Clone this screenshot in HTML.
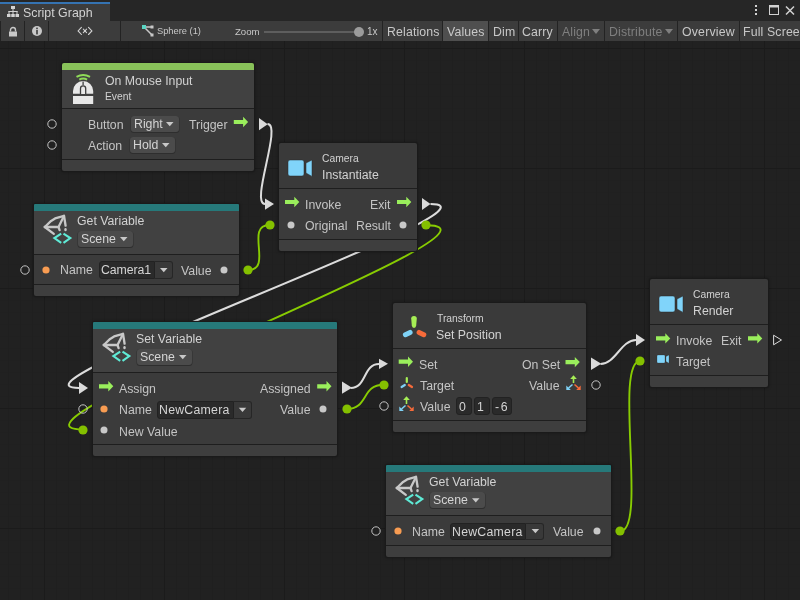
<!DOCTYPE html>
<html><head><meta charset="utf-8">
<style>
*{margin:0;padding:0;box-sizing:border-box}
html,body{width:800px;height:600px;overflow:hidden;background:#212121;font-family:"Liberation Sans",sans-serif;color:#c8c8c8}
.t{position:absolute;line-height:1;white-space:nowrap;will-change:transform}
.r{position:absolute}
.s{position:absolute;overflow:visible}
.node{position:absolute;background:#1a1a1a;border-radius:3px;box-shadow:0 0 3px rgba(0,0,0,0.35)}
.dd{position:absolute;background:#4b4b4b;border-radius:3px;box-shadow:0 0.5px 0 0.5px #2e2e2e}
.fld{position:absolute;background:#2a2a2a;border-radius:3px 0 0 3px;border:1px solid #222}
.fdd{position:absolute;background:#393939;border-radius:0 3px 3px 0;border:1px solid #262626;border-left:none}
#grid{position:absolute;left:0;top:0;width:800px;height:600px;
background-color:#212121;
background-image:
linear-gradient(to right,#1b1b1b 1px,transparent 1px),
linear-gradient(to bottom,#1b1b1b 1px,transparent 1px),
linear-gradient(to right,#1f1f1f 1px,transparent 1px),
linear-gradient(to bottom,#202020 1px,transparent 1px);
background-size:120px 600px,800px 120px,12px 600px,800px 12px;
background-position:44px 0,0 48px,8px 0,0 0;
}
#tabbar{position:absolute;left:0;top:0;width:800px;height:21px;background:#262626}
#tab{position:absolute;left:0;top:2px;width:110px;height:19px;background:#3c3c3c;border-top:2px solid #3573b2}
#toolbar{position:absolute;left:0;top:21px;width:800px;height:20px;background:#3c3c3c}
.tsep{position:absolute;top:21px;width:1px;height:20px;background:#232323}
.tbtn{position:absolute;top:22px;height:20px;font-size:12.3px;line-height:20px;color:#c8c8c8;white-space:nowrap;will-change:transform}
</style></head><body>
<div id="grid"></div>

<svg class="s" style="left:0;top:0" width="800" height="600"><path d="M267.5 124 C282.5 124 250 204 265 204" fill="none" stroke="#dcdcdc" stroke-width="2"/><path d="M248.3 270 C273.3 270 244.39999999999998 225 269.4 225" fill="none" stroke="#88cc02" stroke-width="1.9"/><path d="M430.5 204 C520.5 204 -11 388 79 388" fill="none" stroke="#dcdcdc" stroke-width="2"/><path d="M426.3 225.2 C536.3 225.2 -26.599999999999994 429.6 83.4 429.6" fill="none" stroke="#88cc02" stroke-width="1.9"/><path d="M350.7 388 C366.7 388 363 364 379 364" fill="none" stroke="#dcdcdc" stroke-width="2"/><path d="M346.6 409 C368.6 409 361.4 384.8 383.4 384.8" fill="none" stroke="#88cc02" stroke-width="1.9"/><path d="M600.5 364 C615.5 364 621 340 636 340" fill="none" stroke="#dcdcdc" stroke-width="2"/><path d="M620.4 531 C647.4 531 613.4 361 640.4 361" fill="none" stroke="#88cc02" stroke-width="1.9"/></svg>
<div class="node" style="left:61px;top:62px;width:194px;height:110px"></div>
<div class="r" style="left:62px;top:63px;width:192px;height:7px;background:#88c159;border-radius:2px 2px 0 0"></div>
<div class="r" style="left:62px;top:70px;width:192px;height:38px;background:#414141;"></div>
<div class="r" style="left:62px;top:108px;width:192px;height:1px;background:#1e1e1e;"></div>
<div class="r" style="left:62px;top:109px;width:192px;height:50px;background:#3b3b3b;"></div>
<div class="r" style="left:62px;top:159px;width:192px;height:1px;background:#1e1e1e;"></div>
<div class="r" style="left:62px;top:160px;width:192px;height:11px;background:#3e3e3e;border-radius:0 0 2px 2px"></div>
<svg class="s" style="left:72.9px;top:74px;overflow:visible" width="21" height="31"><path d="M3.5 2.9 Q10.2 -0.8 17 2.9" fill="none" stroke="#8fdc58" stroke-width="2"/><path d="M6.3 5.6 Q10.2 3.4 14.1 5.6" fill="none" stroke="#8fdc58" stroke-width="2"/><path d="M0 19.8 V17 A10.1 10 0 0 1 20.2 17 V19.8 Z" fill="#e8e8e8"/><rect x="0" y="22" width="20.2" height="8" fill="#e8e8e8"/><path d="M10.1 7.5 V11.3" stroke="#3f3f3f" stroke-width="1.3"/><path d="M7.5 20 V14.5 A2.6 2.6 0 0 1 12.7 14.5 V20" fill="#e8e8e8" stroke="#3f3f3f" stroke-width="1.3"/></svg>
<div class="t" style="left:104.7px;top:75.00px;font-size:12.3px;color:#d2d2d2;">On Mouse Input</div>
<div class="t" style="left:104.7px;top:92.00px;font-size:10.3px;color:#d2d2d2;">Event</div>
<svg class="s" style="left:46.3px;top:118px" width="12" height="12"><circle cx="6" cy="6" r="4.2" fill="none" stroke="#c4c4c4" stroke-width="1.0"/></svg>
<svg class="s" style="left:46.3px;top:139px" width="12" height="12"><circle cx="6" cy="6" r="4.2" fill="none" stroke="#c4c4c4" stroke-width="1.0"/></svg>
<div class="t" style="left:87.8px;top:119.00px;font-size:12.3px;color:#c4c4c4;">Button</div>
<div class="t" style="left:88.1px;top:140.00px;font-size:12.3px;color:#c4c4c4;">Action</div>
<div class="dd" style="left:131px;top:116px;width:48px;height:16px"></div>
<div class="t" style="left:133.9px;top:118.00px;font-size:12.3px;color:#d4d4d4;">Right</div>
<svg class="s" style="left:0;top:0" width="800" height="600"><path d="M166 122.0 L173.5 122.0 L169.75 126.3 Z" fill="#c8c8c8"/></svg>
<div class="dd" style="left:130px;top:137px;width:45px;height:16px"></div>
<div class="t" style="left:132.9px;top:139.00px;font-size:12.3px;color:#d4d4d4;">Hold</div>
<svg class="s" style="left:0;top:0" width="800" height="600"><path d="M162 143.0 L169.5 143.0 L165.75 147.3 Z" fill="#c8c8c8"/></svg>
<div class="t" style="left:189.0px;top:119.00px;font-size:12.3px;color:#c4c4c4;">Trigger</div>
<svg class="s" style="left:0;top:0" width="800" height="600"><path d="M233.8 119.9 H243.10000000000002 V116.8 L248.10000000000002 122 L243.10000000000002 127.2 V124.1 H233.8 Z" fill="#9aee5c"/></svg>
<svg class="s" style="left:0;top:0" width="800" height="600"><path d="M259 118 L267.7 124.15 L259 130.3 Z" fill="#dadada"/></svg>
<div class="node" style="left:278px;top:142px;width:140px;height:110px"></div>
<div class="r" style="left:279px;top:143px;width:138px;height:45px;background:#3a3a3a;border-radius:2px 2px 0 0"></div>
<div class="r" style="left:279px;top:188px;width:138px;height:1px;background:#1e1e1e;"></div>
<div class="r" style="left:279px;top:189px;width:138px;height:50px;background:#3b3b3b;"></div>
<div class="r" style="left:279px;top:239px;width:138px;height:1px;background:#1e1e1e;"></div>
<div class="r" style="left:279px;top:240px;width:138px;height:11px;background:#3e3e3e;border-radius:0 0 2px 2px"></div>
<svg class="s" style="left:288px;top:160px;overflow:visible" width="25.0" height="17.0"><g transform="scale(1.0)"><rect x="0" y="0" width="16" height="16" rx="2" fill="#80d4fa" stroke="#2a2a2a" stroke-width="0.5"/><path d="M18 3 L24 0 V16.4 L18 13 Z" fill="#80d4fa" stroke="#2a2a2a" stroke-width="0.5"/></g></svg>
<div class="t" style="left:321.6px;top:154.00px;font-size:10.3px;color:#d2d2d2;">Camera</div>
<div class="t" style="left:321.6px;top:169.00px;font-size:12.3px;color:#d2d2d2;">Instantiate</div>
<svg class="s" style="left:0;top:0" width="800" height="600"><path d="M265 198.4 L274 204.05 L265 209.7 Z" fill="#dadada"/></svg>
<svg class="s" style="left:0;top:0" width="800" height="600"><path d="M285 199.9 H294.3 V196.8 L299.3 202 L294.3 207.2 V204.1 H285 Z" fill="#9aee5c"/></svg>
<div class="t" style="left:304.7px;top:199.00px;font-size:12.3px;color:#c4c4c4;">Invoke</div>
<svg class="s" style="left:284.6px;top:218.8px" width="12" height="12"><circle cx="6" cy="6" r="3.5" fill="#c8c8c8"/></svg>
<div class="t" style="left:304.7px;top:220.00px;font-size:12.3px;color:#c4c4c4;">Original</div>
<div class="t" style="right:409.2px;top:199.00px;font-size:12.3px;color:#c4c4c4">Exit</div>
<svg class="s" style="left:0;top:0" width="800" height="600"><path d="M397 199.9 H406.3 V196.8 L411.3 202 L406.3 207.2 V204.1 H397 Z" fill="#9aee5c"/></svg>
<div class="t" style="right:409.2px;top:220.00px;font-size:12.3px;color:#c4c4c4">Result</div>
<svg class="s" style="left:396.5px;top:218.8px" width="12" height="12"><circle cx="6" cy="6" r="3.5" fill="#c8c8c8"/></svg>
<svg class="s" style="left:0;top:0" width="800" height="600"><path d="M422 198 L430.5 204.0 L422 210 Z" fill="#dadada"/></svg>
<svg class="s" style="left:420.3px;top:219.2px" width="12" height="12"><circle cx="6" cy="6" r="4.6" fill="#84c000"/></svg>
<svg class="s" style="left:263.6px;top:218.9px" width="12" height="12"><circle cx="6" cy="6" r="4.6" fill="#84c000"/></svg>
<div class="node" style="left:33px;top:203px;width:207px;height:94px"></div>
<div class="r" style="left:34px;top:204px;width:205px;height:7px;background:#26797a;border-radius:1px 1px 0 0"></div>
<div class="r" style="left:34px;top:211px;width:205px;height:43px;background:#414141;"></div>
<div class="r" style="left:34px;top:254px;width:205px;height:1px;background:#1e1e1e;"></div>
<div class="r" style="left:34px;top:255px;width:205px;height:29px;background:#3b3b3b;"></div>
<div class="r" style="left:34px;top:284px;width:205px;height:1px;background:#1e1e1e;"></div>
<div class="r" style="left:34px;top:285px;width:205px;height:11px;background:#3e3e3e;border-radius:0 0 2px 2px"></div>
<svg class="s" style="left:40.1px;top:212.7px;overflow:visible" width="34" height="34"><g transform="translate(4 14)"><g fill="none" stroke="#c8c8c8" stroke-width="2.3" stroke-linejoin="round" stroke-linecap="round"><path d="M0.8 0 L7.1 -6.1 L11.1 -8.6 L20 -11.2 L21.6 -1.3"/><path d="M0.8 0 L9.8 6.8"/><path d="M0.8 0 L14.5 0 L20 -11"/><path d="M14.5 0 L15.6 3.1"/><path d="M21.5 2.2 L21.5 3.2"/></g><g fill="none" stroke="#5fead6" stroke-width="2.1"><path d="M17.2 6.6 L10.4 11.1 L17.2 15.8"/><path d="M19.5 6.6 L26.3 11.1 L19.5 15.8"/></g></g></svg>
<div class="t" style="left:76.9px;top:215.00px;font-size:12.3px;color:#d2d2d2;">Get Variable</div>
<div class="dd" style="left:78px;top:231px;width:55px;height:16px"></div>
<div class="t" style="left:80.9px;top:233.00px;font-size:12.3px;color:#d4d4d4;">Scene</div>
<svg class="s" style="left:0;top:0" width="800" height="600"><path d="M120 237.0 L127.5 237.0 L123.75 241.3 Z" fill="#c8c8c8"/></svg>
<svg class="s" style="left:18.7px;top:264px" width="12" height="12"><circle cx="6" cy="6" r="4.2" fill="none" stroke="#c4c4c4" stroke-width="1.0"/></svg>
<svg class="s" style="left:39.5px;top:264px" width="12" height="12"><circle cx="6" cy="6" r="3.6" fill="#f89c52"/></svg>
<div class="t" style="left:59.6px;top:264.00px;font-size:12.3px;color:#c4c4c4;">Name</div>
<div class="fld" style="left:98.5px;top:261px;width:56.5px;height:18px"></div>
<div class="fdd" style="left:155px;top:261px;width:17.5px;height:18px"></div>
<div class="t" style="left:100.6px;top:264.00px;font-size:12.3px;color:#d4d4d4;letter-spacing:-0.1px">Camera1</div>
<svg class="s" style="left:0;top:0" width="800" height="600"><path d="M160.0 268.0 L167.5 268.0 L163.75 272.3 Z" fill="#c8c8c8"/></svg>
<div class="t" style="left:180.8px;top:265.00px;font-size:12.3px;color:#c4c4c4;">Value</div>
<svg class="s" style="left:218.4px;top:264px" width="12" height="12"><circle cx="6" cy="6" r="3.5" fill="#c8c8c8"/></svg>
<svg class="s" style="left:241.5px;top:264px" width="12" height="12"><circle cx="6" cy="6" r="4.6" fill="#84c000"/></svg>
<div class="node" style="left:92px;top:321px;width:246px;height:136px"></div>
<div class="r" style="left:93px;top:322px;width:244px;height:7px;background:#26797a;border-radius:1px 1px 0 0"></div>
<div class="r" style="left:93px;top:329px;width:244px;height:43px;background:#414141;"></div>
<div class="r" style="left:93px;top:372px;width:244px;height:1px;background:#1e1e1e;"></div>
<div class="r" style="left:93px;top:373px;width:244px;height:71px;background:#3b3b3b;"></div>
<div class="r" style="left:93px;top:444px;width:244px;height:1px;background:#1e1e1e;"></div>
<div class="r" style="left:93px;top:445px;width:244px;height:11px;background:#3e3e3e;border-radius:0 0 2px 2px"></div>
<svg class="s" style="left:99.2px;top:330.8px;overflow:visible" width="34" height="34"><g transform="translate(4 14)"><g fill="none" stroke="#c8c8c8" stroke-width="2.3" stroke-linejoin="round" stroke-linecap="round"><path d="M0.8 0 L7.1 -6.1 L11.1 -8.6 L20 -11.2 L21.6 -1.3"/><path d="M0.8 0 L9.8 6.8"/><path d="M0.8 0 L14.5 0 L20 -11"/><path d="M14.5 0 L15.6 3.1"/><path d="M21.5 2.2 L21.5 3.2"/></g><g fill="none" stroke="#5fead6" stroke-width="2.1"><path d="M17.2 6.6 L10.4 11.1 L17.2 15.8"/><path d="M19.5 6.6 L26.3 11.1 L19.5 15.8"/></g></g></svg>
<div class="t" style="left:135.8px;top:333.00px;font-size:12.3px;color:#d2d2d2;">Set Variable</div>
<div class="dd" style="left:137px;top:349px;width:55px;height:16px"></div>
<div class="t" style="left:139.9px;top:351.00px;font-size:12.3px;color:#d4d4d4;">Scene</div>
<svg class="s" style="left:0;top:0" width="800" height="600"><path d="M179 355.0 L186.5 355.0 L182.75 359.3 Z" fill="#c8c8c8"/></svg>
<svg class="s" style="left:0;top:0" width="800" height="600"><path d="M79 382 L88 388.0 L79 394 Z" fill="#dadada"/></svg>
<svg class="s" style="left:0;top:0" width="800" height="600"><path d="M99 384.2 H108.3 V381.1 L113.3 386.3 L108.3 391.5 V388.40000000000003 H99 Z" fill="#9aee5c"/></svg>
<div class="t" style="left:119.3px;top:383.00px;font-size:12.3px;color:#c4c4c4;">Assign</div>
<svg class="s" style="left:77.4px;top:402.7px" width="12" height="12"><circle cx="6" cy="6" r="4.2" fill="none" stroke="#c4c4c4" stroke-width="1.0"/></svg>
<svg class="s" style="left:98px;top:403px" width="12" height="12"><circle cx="6" cy="6" r="3.6" fill="#f89c52"/></svg>
<div class="t" style="left:118.6px;top:404.00px;font-size:12.3px;color:#c4c4c4;">Name</div>
<div class="fld" style="left:157px;top:401px;width:76.5px;height:17.5px"></div>
<div class="fdd" style="left:233.5px;top:401px;width:18.0px;height:17.5px"></div>
<div class="t" style="left:159.1px;top:404.00px;font-size:12.3px;color:#d4d4d4;letter-spacing:0.25px">NewCamera</div>
<svg class="s" style="left:0;top:0" width="800" height="600"><path d="M238.75 407.75 L246.25 407.75 L242.5 412.05 Z" fill="#c8c8c8"/></svg>
<div class="t" style="right:489.0px;top:383.00px;font-size:12.3px;color:#c4c4c4">Assigned</div>
<svg class="s" style="left:0;top:0" width="800" height="600"><path d="M317.2 384.2 H326.5 V381.1 L331.5 386.3 L326.5 391.5 V388.40000000000003 H317.2 Z" fill="#9aee5c"/></svg>
<svg class="s" style="left:0;top:0" width="800" height="600"><path d="M342 381.6 L352 387.70000000000005 L342 393.8 Z" fill="#dadada"/></svg>
<div class="t" style="right:489.4px;top:404.00px;font-size:12.3px;color:#c4c4c4">Value</div>
<svg class="s" style="left:316.6px;top:402.8px" width="12" height="12"><circle cx="6" cy="6" r="3.5" fill="#c8c8c8"/></svg>
<svg class="s" style="left:340.6px;top:402.8px" width="12" height="12"><circle cx="6" cy="6" r="4.6" fill="#84c000"/></svg>
<svg class="s" style="left:98px;top:424px" width="12" height="12"><circle cx="6" cy="6" r="3.5" fill="#c8c8c8"/></svg>
<div class="t" style="left:118.6px;top:426.00px;font-size:12.3px;color:#c4c4c4;">New Value</div>
<svg class="s" style="left:77.4px;top:423.6px" width="12" height="12"><circle cx="6" cy="6" r="4.6" fill="#84c000"/></svg>
<div class="node" style="left:392px;top:302px;width:195px;height:131px"></div>
<div class="r" style="left:393px;top:303px;width:193px;height:45px;background:#3a3a3a;border-radius:2px 2px 0 0"></div>
<div class="r" style="left:393px;top:348px;width:193px;height:1px;background:#1e1e1e;"></div>
<div class="r" style="left:393px;top:349px;width:193px;height:71px;background:#3b3b3b;"></div>
<div class="r" style="left:393px;top:420px;width:193px;height:1px;background:#1e1e1e;"></div>
<div class="r" style="left:393px;top:421px;width:193px;height:11px;background:#3e3e3e;border-radius:0 0 2px 2px"></div>
<svg class="s" style="left:398px;top:310px;overflow:visible" width="30" height="30"><path d="M13.2 8.6 Q13.2 5.9 16 5.9 Q18.8 5.9 18.8 8.6 L18.2 15.6 Q18 17.9 16 17.9 Q14 17.9 13.8 15.6 Z" fill="#a6ee55"/><path d="M7.4 24.7 L12.1 22.4" stroke="#7fd2f6" stroke-width="5" stroke-linecap="round"/><path d="M21.1 22.4 L25.8 24.7" stroke="#f76b3a" stroke-width="5" stroke-linecap="round"/></svg>
<div class="t" style="left:436.6px;top:314.00px;font-size:10.3px;color:#d2d2d2;">Transform</div>
<div class="t" style="left:435.9px;top:329.00px;font-size:12.3px;color:#d2d2d2;">Set Position</div>
<svg class="s" style="left:0;top:0" width="800" height="600"><path d="M379 358.7 L388 363.85 L379 369 Z" fill="#dadada"/></svg>
<svg class="s" style="left:0;top:0" width="800" height="600"><path d="M398.7 359.59999999999997 H408.0 V356.5 L413.0 361.7 L408.0 366.9 V363.8 H398.7 Z" fill="#9aee5c"/></svg>
<div class="t" style="left:418.8px;top:359.00px;font-size:12.3px;color:#c4c4c4;">Set</div>
<svg class="s" style="left:377.6px;top:378.75px" width="12" height="12"><circle cx="6" cy="6" r="4.6" fill="#84c000"/></svg>
<svg class="s" style="left:399.5px;top:377px;overflow:visible" width="14" height="12"><path d="M6.8 1 L6.8 5" stroke="#a6ee55" stroke-width="2.2" stroke-linecap="round"/><path d="M1.6 10 L4.8 8" stroke="#7fd2f6" stroke-width="2.2" stroke-linecap="round"/><path d="M8.8 8 L12 10" stroke="#f76b3a" stroke-width="2.2" stroke-linecap="round"/></svg>
<div class="t" style="left:419.5px;top:380.00px;font-size:12.3px;color:#c4c4c4;">Target</div>
<svg class="s" style="left:377.6px;top:400px" width="12" height="12"><circle cx="6" cy="6" r="4.2" fill="none" stroke="#c4c4c4" stroke-width="1.0"/></svg>
<svg class="s" style="left:398.7px;top:396px;overflow:visible" width="15" height="16"><path d="M7.5 8 V3" stroke="#a6ee55" stroke-width="1.6"/><path d="M4.2 4 L7.5 0.3 L10.8 4 Z" fill="#a6ee55"/><path d="M6.5 9.5 L2.5 13" stroke="#7fd2f6" stroke-width="1.6"/><path d="M0.3 10.4 L0.3 15 L4.8 15 Z" fill="#7fd2f6"/><path d="M8.5 9.5 L12.5 13" stroke="#f76b3a" stroke-width="1.6"/><path d="M14.7 10.4 L14.7 15 L10.2 15 Z" fill="#f76b3a"/></svg>
<div class="t" style="left:419.5px;top:401.00px;font-size:12.3px;color:#c4c4c4;">Value</div>
<div class="fld" style="left:456px;top:397px;width:16px;height:18px;border-radius:3px"></div>
<div class="t" style="left:459.1px;top:401.00px;font-size:12.3px;color:#d4d4d4;">0</div>
<div class="fld" style="left:474px;top:397px;width:16px;height:18px;border-radius:3px"></div>
<div class="t" style="left:477.1px;top:401.00px;font-size:12.3px;color:#d4d4d4;">1</div>
<div class="fld" style="left:492px;top:397px;width:20px;height:18px;border-radius:3px"></div>
<div class="t" style="left:495.1px;top:401.00px;font-size:12.3px;color:#d4d4d4;letter-spacing:1.6px">-6</div>
<div class="t" style="right:240.0px;top:359.00px;font-size:12.3px;color:#c4c4c4">On Set</div>
<svg class="s" style="left:0;top:0" width="800" height="600"><path d="M565.5 360.0 H574.8 V356.90000000000003 L579.8 362.1 L574.8 367.3 V364.20000000000005 H565.5 Z" fill="#9aee5c"/></svg>
<svg class="s" style="left:0;top:0" width="800" height="600"><path d="M591 357.6 L601.3 363.8 L591 370 Z" fill="#dadada"/></svg>
<div class="t" style="right:240.0px;top:380.00px;font-size:12.3px;color:#c4c4c4">Value</div>
<svg class="s" style="left:565.5px;top:375px;overflow:visible" width="15" height="16"><path d="M7.5 8 V3" stroke="#a6ee55" stroke-width="1.6"/><path d="M4.2 4 L7.5 0.3 L10.8 4 Z" fill="#a6ee55"/><path d="M6.5 9.5 L2.5 13" stroke="#7fd2f6" stroke-width="1.6"/><path d="M0.3 10.4 L0.3 15 L4.8 15 Z" fill="#7fd2f6"/><path d="M8.5 9.5 L12.5 13" stroke="#f76b3a" stroke-width="1.6"/><path d="M14.7 10.4 L14.7 15 L10.2 15 Z" fill="#f76b3a"/></svg>
<svg class="s" style="left:589.5px;top:379.1px" width="12" height="12"><circle cx="6" cy="6" r="4.2" fill="none" stroke="#c4c4c4" stroke-width="1.0"/></svg>
<div class="node" style="left:649px;top:278px;width:120px;height:110px"></div>
<div class="r" style="left:650px;top:279px;width:118px;height:45px;background:#3a3a3a;border-radius:2px 2px 0 0"></div>
<div class="r" style="left:650px;top:324px;width:118px;height:1px;background:#1e1e1e;"></div>
<div class="r" style="left:650px;top:325px;width:118px;height:50px;background:#3b3b3b;"></div>
<div class="r" style="left:650px;top:375px;width:118px;height:1px;background:#1e1e1e;"></div>
<div class="r" style="left:650px;top:376px;width:118px;height:11px;background:#3e3e3e;border-radius:0 0 2px 2px"></div>
<svg class="s" style="left:659px;top:295.6px;overflow:visible" width="25.0" height="17.0"><g transform="scale(1.0)"><rect x="0" y="0" width="16" height="16" rx="2" fill="#80d4fa" stroke="#2a2a2a" stroke-width="0.5"/><path d="M18 3 L24 0 V16.4 L18 13 Z" fill="#80d4fa" stroke="#2a2a2a" stroke-width="0.5"/></g></svg>
<div class="t" style="left:692.7px;top:290.00px;font-size:10.3px;color:#d2d2d2;">Camera</div>
<div class="t" style="left:692.7px;top:305.00px;font-size:12.3px;color:#d2d2d2;">Render</div>
<svg class="s" style="left:0;top:0" width="800" height="600"><path d="M636 334 L645 340.0 L636 346 Z" fill="#dadada"/></svg>
<svg class="s" style="left:0;top:0" width="800" height="600"><path d="M656 336.29999999999995 H665.3 V333.2 L670.3 338.4 L665.3 343.59999999999997 V340.5 H656 Z" fill="#9aee5c"/></svg>
<div class="t" style="left:675.5px;top:335.00px;font-size:12.3px;color:#c4c4c4;">Invoke</div>
<div class="t" style="right:58.4px;top:335.00px;font-size:12.3px;color:#c4c4c4">Exit</div>
<svg class="s" style="left:0;top:0" width="800" height="600"><path d="M748 336.29999999999995 H757.3 V333.2 L762.3 338.4 L757.3 343.59999999999997 V340.5 H748 Z" fill="#9aee5c"/></svg>
<svg class="s" style="left:0;top:0" width="800" height="600"><path d="M773.6 335.2 L781.5 340.0 L773.6 344.8 Z" fill="none" stroke="#dadada" stroke-width="1.0"/></svg>
<svg class="s" style="left:657px;top:355px;overflow:visible" width="12.5" height="8.5"><g transform="scale(0.5)"><rect x="0" y="0" width="16" height="16" rx="2" fill="#80d4fa" stroke="#2a2a2a" stroke-width="0.5"/><path d="M18 3 L24 0 V16.4 L18 13 Z" fill="#80d4fa" stroke="#2a2a2a" stroke-width="0.5"/></g></svg>
<div class="t" style="left:676.2px;top:356.00px;font-size:12.3px;color:#c4c4c4;">Target</div>
<svg class="s" style="left:634.4px;top:355px" width="12" height="12"><circle cx="6" cy="6" r="4.6" fill="#84c000"/></svg>
<div class="node" style="left:385px;top:464px;width:227px;height:94px"></div>
<div class="r" style="left:386px;top:465px;width:225px;height:7px;background:#26797a;border-radius:1px 1px 0 0"></div>
<div class="r" style="left:386px;top:472px;width:225px;height:43px;background:#414141;"></div>
<div class="r" style="left:386px;top:515px;width:225px;height:1px;background:#1e1e1e;"></div>
<div class="r" style="left:386px;top:516px;width:225px;height:29px;background:#3b3b3b;"></div>
<div class="r" style="left:386px;top:545px;width:225px;height:1px;background:#1e1e1e;"></div>
<div class="r" style="left:386px;top:546px;width:225px;height:11px;background:#3e3e3e;border-radius:0 0 2px 2px"></div>
<svg class="s" style="left:392px;top:473.5px;overflow:visible" width="34" height="34"><g transform="translate(4 14)"><g fill="none" stroke="#c8c8c8" stroke-width="2.3" stroke-linejoin="round" stroke-linecap="round"><path d="M0.8 0 L7.1 -6.1 L11.1 -8.6 L20 -11.2 L21.6 -1.3"/><path d="M0.8 0 L9.8 6.8"/><path d="M0.8 0 L14.5 0 L20 -11"/><path d="M14.5 0 L15.6 3.1"/><path d="M21.5 2.2 L21.5 3.2"/></g><g fill="none" stroke="#5fead6" stroke-width="2.1"><path d="M17.2 6.6 L10.4 11.1 L17.2 15.8"/><path d="M19.5 6.6 L26.3 11.1 L19.5 15.8"/></g></g></svg>
<div class="t" style="left:428.8px;top:476.00px;font-size:12.3px;color:#d2d2d2;">Get Variable</div>
<div class="dd" style="left:429.7px;top:492px;width:55.30000000000001px;height:16.30000000000001px"></div>
<div class="t" style="left:432.6px;top:494.00px;font-size:12.3px;color:#d4d4d4;">Scene</div>
<svg class="s" style="left:0;top:0" width="800" height="600"><path d="M472 498.15 L479.5 498.15 L475.75 502.45 Z" fill="#c8c8c8"/></svg>
<svg class="s" style="left:370.3px;top:525.3px" width="12" height="12"><circle cx="6" cy="6" r="4.2" fill="none" stroke="#c4c4c4" stroke-width="1.0"/></svg>
<svg class="s" style="left:391.5px;top:525.3px" width="12" height="12"><circle cx="6" cy="6" r="3.6" fill="#f89c52"/></svg>
<div class="t" style="left:411.6px;top:526.00px;font-size:12.3px;color:#c4c4c4;">Name</div>
<div class="fld" style="left:450.3px;top:522.5px;width:75.99999999999994px;height:17.0px"></div>
<div class="fdd" style="left:526.3px;top:522.5px;width:18.200000000000045px;height:17.0px"></div>
<div class="t" style="left:452.4px;top:526.00px;font-size:12.3px;color:#d4d4d4;letter-spacing:0.25px">NewCamera</div>
<svg class="s" style="left:0;top:0" width="800" height="600"><path d="M531.65 529.0 L539.15 529.0 L535.4 533.3 Z" fill="#c8c8c8"/></svg>
<div class="t" style="left:553.3px;top:526.00px;font-size:12.3px;color:#c4c4c4;">Value</div>
<svg class="s" style="left:591px;top:525px" width="12" height="12"><circle cx="6" cy="6" r="3.5" fill="#c8c8c8"/></svg>
<svg class="s" style="left:614px;top:525px" width="12" height="12"><circle cx="6" cy="6" r="4.6" fill="#84c000"/></svg>

<div id="tabbar"></div>
<div id="tab"></div>
<svg class="s" width="12" height="12" style="left:7px;top:6px">
 <g fill="#d2d2d2">
  <rect x="4" y="0" width="4" height="3"/>
  <rect x="5.5" y="3" width="1" height="2"/>
  <rect x="1.5" y="5" width="9" height="1"/>
  <rect x="1.5" y="5" width="1" height="3"/>
  <rect x="5.5" y="5" width="1" height="3"/>
  <rect x="9.5" y="5" width="1" height="3"/>
  <rect x="0" y="8" width="3.5" height="3"/>
  <rect x="4.25" y="8" width="3.5" height="3"/>
  <rect x="8.5" y="8" width="3.5" height="3"/>
 </g>
</svg>
<div class="t" style="left:22.9px;top:7px;font-size:12.4px;color:#d2d2d2">Script Graph</div>
<svg class="s" width="40" height="12" style="left:752px;top:5px">
 <g fill="#d2d2d2">
  <rect x="3" y="0" width="2" height="2"/><rect x="3" y="4" width="2" height="2"/><rect x="3" y="8" width="2" height="2"/>
 </g>
 <rect x="17.5" y="0.5" width="9" height="9" fill="none" stroke="#d2d2d2" stroke-width="1"/>
 <rect x="17" y="0" width="10" height="2.5" fill="#d2d2d2"/>
 <path d="M34 1.5 L42 9.5 M42 1.5 L34 9.5" stroke="#d2d2d2" stroke-width="1.5"/>
</svg>
<div id="toolbar"></div>
<div class="tsep" style="left:0"></div>
<div class="tsep" style="left:24px"></div>
<div class="tsep" style="left:48px"></div>
<div class="tsep" style="left:120px"></div>
<div class="tsep" style="left:382px"></div>
<div class="tsep" style="left:442px"></div>
<div class="tsep" style="left:488px"></div>
<div class="tsep" style="left:518px"></div>
<div class="tsep" style="left:557px"></div>
<div class="tsep" style="left:604px"></div>
<div class="tsep" style="left:677px"></div>
<div class="tsep" style="left:739px"></div>
<div class="r" style="left:443px;top:21px;width:45px;height:20px;background:#4f4f4f"></div>
<svg class="s" width="10" height="10" style="left:8px;top:26.8px">
 <path d="M2.5 4.5 V3 A2.5 2.5 0 0 1 7.5 3 V4.5" fill="none" stroke="#c8c8c8" stroke-width="1.4"/>
 <rect x="1" y="4.5" width="8" height="5" fill="#c8c8c8"/>
</svg>
<svg class="s" width="10" height="10" style="left:32px;top:26px">
 <circle cx="5" cy="5" r="5" fill="#c8c8c8"/>
 <rect x="4.2" y="1.6" width="1.6" height="1.6" fill="#3c3c3c"/>
 <rect x="4.2" y="4" width="1.6" height="4.4" fill="#3c3c3c"/>
</svg>
<svg class="s" width="800" height="50" style="left:0;top:0"><g fill="none" stroke="#d2d2d2" stroke-width="1.1" stroke-linecap="round"><path d="M81.4 27.3 L78.1 30.9 L81.4 34.5"/><path d="M88.5 27.3 L91.9 30.9 L88.5 34.5"/><path d="M83.3 29.2 L86.6 32.6 M86.6 29.2 L83.3 32.6"/></g></svg>
<svg class="s" width="12" height="12" style="left:142px;top:25px">
 <path d="M2 2 L10 2 M2 2 L10 10" stroke="#c8c8c8" stroke-width="1.5"/>
 <rect x="0" y="0" width="4" height="4" fill="#5ad5c3"/>
 <rect x="8.5" y="0.5" width="3" height="3" fill="#c8c8c8"/>
 <rect x="8.5" y="8.5" width="3" height="3" fill="#c8c8c8"/>
</svg>
<div class="tbtn" style="left:157px;font-size:9.3px;line-height:19px">Sphere (1)</div>
<div class="tbtn" style="left:235px;font-size:9.6px;line-height:19px">Zoom</div>
<div class="r" style="left:264px;top:31px;width:94px;height:2px;background:#5e5e5e"></div>
<div class="r" style="left:354px;top:27px;width:10px;height:10px;border-radius:5px;background:#9b9b9b"></div>
<div class="tbtn" style="left:367px;font-size:10px;line-height:19px">1x</div>
<div class="tbtn" style="left:386.7px;letter-spacing:0.15px">Relations</div>
<div class="tbtn" style="left:446.5px;letter-spacing:0.15px">Values</div>
<div class="tbtn" style="left:492.5px;letter-spacing:0.15px">Dim</div>
<div class="tbtn" style="left:521.5px;letter-spacing:0.15px">Carry</div>
<div class="tbtn" style="left:561.5px;letter-spacing:0.15px;color:#7f7f7f">Align</div>
<div class="r" style="left:592px;top:29px;width:0;height:0;border-left:4px solid transparent;border-right:4px solid transparent;border-top:5px solid #7f7f7f"></div>
<div class="tbtn" style="left:608.5px;letter-spacing:0.15px;color:#7f7f7f">Distribute</div>
<div class="r" style="left:665px;top:29px;width:0;height:0;border-left:4px solid transparent;border-right:4px solid transparent;border-top:5px solid #7f7f7f"></div>
<div class="tbtn" style="left:681.5px;letter-spacing:0.2px">Overview</div>
<div class="tbtn" style="left:742.5px;letter-spacing:0.15px">Full Screen</div>
</body></html>
